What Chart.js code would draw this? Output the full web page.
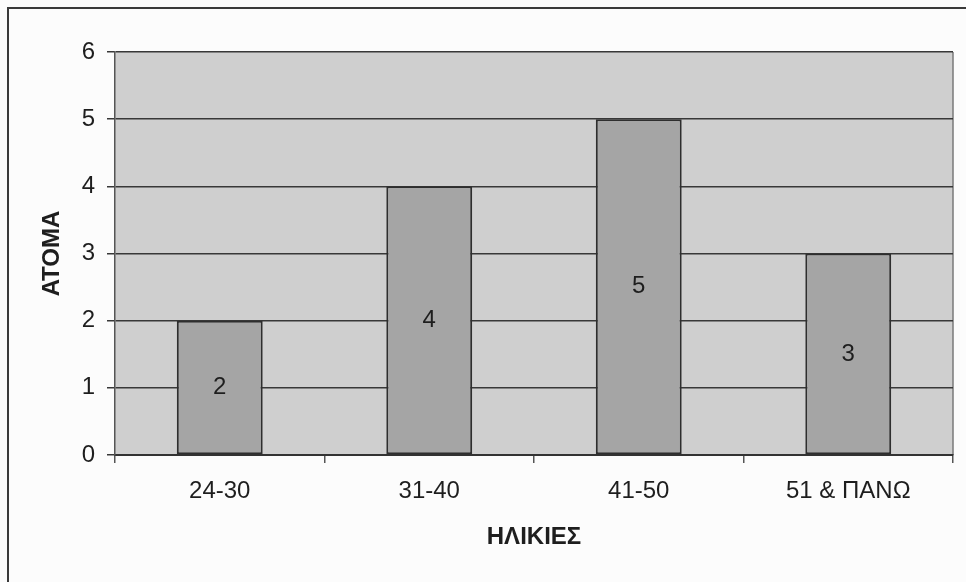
<!DOCTYPE html>
<html>
<head>
<meta charset="utf-8">
<script src="https://cdn.jsdelivr.net/npm/chart.js@4.4.0/dist/chart.umd.min.js"></script>
<style>
  html, body { margin: 0; padding: 0; background: #fcfcfc; }
  #wrap { width: 966px; height: 582px; position: relative; }
</style>
</head>
<body>
<div id="wrap"><canvas id="c" width="966" height="582"></canvas></div>
<script>
const categories = ['24-30', '31-40', '41-50', '51 & ΠΑΝΩ'];
const persons = [2, 4, 5, 3];
const yTitle = 'ΑΤΟΜΑ';
const xTitle = 'ΗΛΙΚΙΕΣ';

const FONT = '"Liberation Sans", Arial, sans-serif';

const framePlugin = {
  id: 'frame',
  beforeDraw(chart) {
    const ctx = chart.ctx;
    const a = chart.chartArea;
    ctx.save();
    ctx.fillStyle = '#fcfcfc';
    ctx.fillRect(0, 0, chart.width, chart.height);
    ctx.strokeStyle = '#3a3a3a';
    ctx.lineWidth = 2;
    ctx.strokeRect(8, 8, chart.width + 20, chart.height + 20);
    ctx.fillStyle = '#cfcfcf';
    ctx.fillRect(a.left, a.top, a.right - a.left, a.bottom - a.top);
    ctx.strokeStyle = '#7a7a7a';
    ctx.lineWidth = 1.5;
    ctx.beginPath();
    ctx.moveTo(a.right, a.top);
    ctx.lineTo(a.right, a.bottom);
    ctx.stroke();
    ctx.restore();
  }
};

const valueLabels = {
  id: 'valueLabels',
  afterDatasetsDraw(chart) {
    const ctx = chart.ctx;
    ctx.save();
    ctx.font = '24px ' + FONT;
    ctx.fillStyle = '#1e1e1e';
    ctx.textAlign = 'center';
    ctx.textBaseline = 'middle';
    chart.getDatasetMeta(0).data.forEach((bar, i) => {
      ctx.fillText(String(persons[i]), bar.x, (bar.y + bar.base) / 2);
    });
    ctx.restore();
  }
};

new Chart(document.getElementById('c'), {
  type: 'bar',
  data: {
    labels: categories,
    datasets: [{
      data: persons,
      backgroundColor: '#a5a5a5',
      borderColor: '#2e2e2e',
      borderWidth: 2,
      borderSkipped: false,
      barPercentage: 0.41,
      categoryPercentage: 1
    }]
  },
  options: {
    responsive: false,
    animation: false,
    devicePixelRatio: 1,
    layout: { padding: { left: 0, top: 52, right: 13, bottom: 0 } },
    plugins: { legend: { display: false }, tooltip: { enabled: false } },
    scales: {
      x: {
        offset: true,
        grid: { offset: true, drawOnChartArea: false, drawTicks: true, tickLength: 8, color: '#555', lineWidth: 1.5 },
        border: { display: true, color: '#333', width: 2 },
        ticks: { color: '#1e1e1e', font: { family: FONT, size: 24 }, padding: 14, maxRotation: 0 },
        title: { display: true, text: xTitle, color: '#1e1e1e', font: { family: FONT, size: 24, weight: 'bold' }, padding: { top: 0, bottom: 30 } },
        afterFit(scale) { scale.height = 127; }
      },
      y: {
        min: 0, max: 6,
        ticks: { stepSize: 1, color: '#1e1e1e', font: { family: FONT, size: 24 }, padding: 12 },
        grid: { color: '#383838', lineWidth: 1.5, tickLength: 8, drawTicks: true },
        border: { display: true, color: '#555', width: 1.5 },
        title: { display: true, text: yTitle, color: '#1e1e1e', font: { family: FONT, size: 24, weight: 'bold' }, padding: { top: 38, bottom: 0 } },
        afterFit(scale) { scale.width = 115; }
      }
    }
  },
  plugins: [framePlugin, valueLabels]
});
</script>
</body>
</html>
